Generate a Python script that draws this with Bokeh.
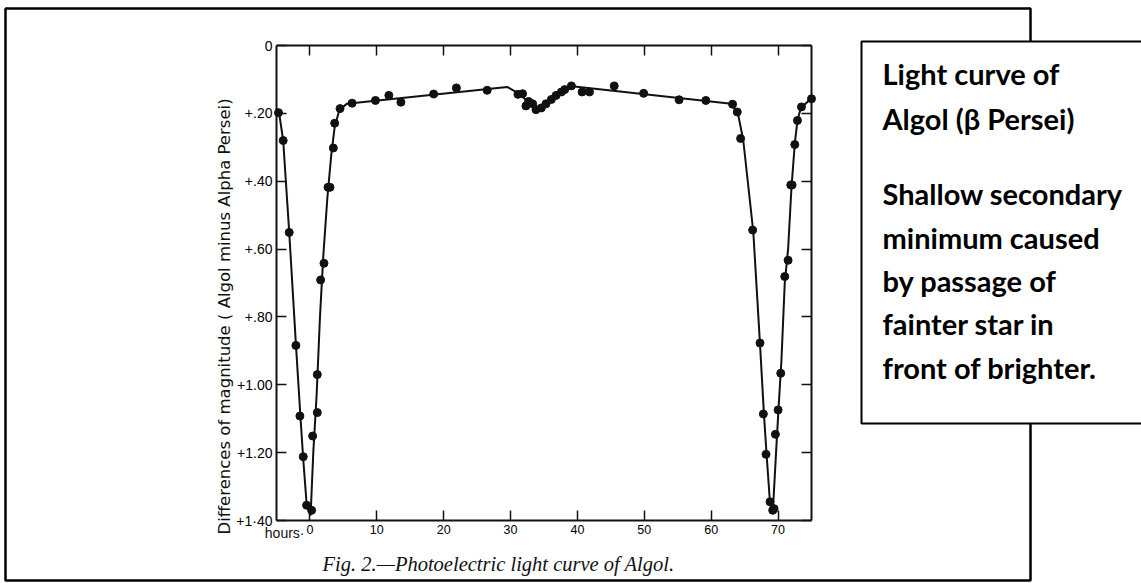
import math
from bokeh.plotting import figure
from bokeh.models import Range1d, LinearAxis, FixedTicker, Label, BoxAnnotation
from bokeh.embed import file_html
from bokeh.resources import INLINE

# ---- data (hours, magnitude difference) ----
curve_hours = [-5.0, -4.6, -4.0, -3.1, -2.1, -1.4, -1.0, -0.5, 0.1,
               0.5, 1.0, 1.5, 2.0, 2.6, 3.2, 3.7, 4.4, 5.5,
               29.5, 31.5, 33.0, 34.2, 35.5, 37.5, 39.2, 63.0, 64.0, 64.8,
               66.3, 67.3, 67.9, 68.3, 68.8, 69.2, 69.7, 70.1, 70.5, 71.0,
               71.5, 72.0, 72.5, 72.9, 73.4, 75.0]
curve_mag = [0.185, 0.20, 0.28, 0.55, 0.88, 1.10, 1.22, 1.35, 1.385,
             1.20, 1.03, 0.80, 0.62, 0.45, 0.32, 0.24, 0.19, 0.172,
             0.122, 0.145, 0.175, 0.19, 0.17, 0.14, 0.12, 0.172, 0.20, 0.28,
             0.55, 0.88, 1.09, 1.21, 1.35, 1.38, 1.20, 1.06, 0.93, 0.70,
             0.60, 0.42, 0.29, 0.22, 0.185, 0.155]

obs_hours = [-4.7, -4.0, -3.1, -2.1, -1.5, -1.0, -0.5, 0.25, 0.4, 1.1, 1.1,
             1.6, 2.1, 2.7, 3.0, 3.5, 3.7, 4.5, 6.3, 9.8, 11.8, 13.6, 18.5,
             21.9, 26.5, 31.1, 31.8, 32.3, 32.7, 33.3, 33.8, 34.6, 35.3, 36.1,
             36.8, 37.6, 38.1, 39.1, 40.7, 41.8, 45.5, 49.9, 55.2, 59.2, 63.2,
             63.9, 64.4, 66.2, 67.3, 67.8, 68.2, 68.8, 69.2, 69.4, 69.6, 70.0,
             70.4, 71.0, 71.5, 71.9, 72.1, 72.5, 72.9, 73.5, 75.0]
obs_mag = [0.198, 0.280, 0.551, 0.884, 1.092, 1.212, 1.355, 1.370, 1.151, 1.082, 0.970,
           0.691, 0.642, 0.418, 0.418, 0.302, 0.229, 0.186, 0.170, 0.162, 0.147, 0.167, 0.143,
           0.125, 0.132, 0.144, 0.142, 0.178, 0.165, 0.172, 0.189, 0.184, 0.172, 0.159,
           0.147, 0.137, 0.130, 0.119, 0.137, 0.137, 0.119, 0.141, 0.160, 0.162, 0.173,
           0.196, 0.274, 0.544, 0.877, 1.086, 1.205, 1.345, 1.370, 1.365, 1.146, 1.074,
           0.966, 0.681, 0.633, 0.411, 0.411, 0.292, 0.221, 0.181, 0.157]

x_ticks = [0, 10, 20, 30, 40, 50, 60, 70]
x_tick_labels = ["0", "10", "20", "30", "40", "50", "60", "70"]
y_ticks = [0, 0.2, 0.4, 0.6, 0.8, 1.0, 1.2, 1.4]
y_tick_labels = ["0", "+.20", "+.40", "+.60", "+.80", "+1.00", "+1.20", "+1·40"]
x_bounds = (-5, 75)
y_bounds = (0, 1.4)

y_title = "Differences of magnitude ( Algol minus Alpha Persei)"
caption = "Fig. 2.\u2014Photoelectric light curve of Algol."
box_lines = ["Light curve of", "Algol (\u03b2 Persei)", "Shallow secondary",
             "minimum caused", "by passage of", "fainter star in", "front of brighter."]

INK = "#111111"

# ---- layout: the plotting frame fills the whole canvas; the chart box is drawn
#      by four axes fixed at the chart bounds (pixel box 276..811 x 45..520)
W, H = 1141, 583
BOX_L, BOX_R, BOX_T, BOX_B = 276, 811, 45, 520
kx = (BOX_R - BOX_L) / (x_bounds[1] - x_bounds[0])
ky = (BOX_B - BOX_T) / (y_bounds[1] - y_bounds[0])
x_start = x_bounds[0] - BOX_L / kx
x_end = x_bounds[1] + (W - BOX_R) / kx
y_top = y_bounds[0] - BOX_T / ky
y_bottom = y_bounds[1] + (H - BOX_B) / ky

p = figure(width=W, height=H, x_range=Range1d(x_start, x_end), y_range=Range1d(y_bottom, y_top),
           output_backend="svg", toolbar_location=None,
           x_axis_location=None, y_axis_location=None,
           min_border_left=0, min_border_right=0, min_border_top=0, min_border_bottom=0)
p.xgrid.visible = False
p.ygrid.visible = False
p.outline_line_color = None
p.background_fill_color = "white"
p.border_fill_color = "white"

def make_axis(ticks, loc, bounds, labels=None):
    ax = LinearAxis(fixed_location=loc, bounds=bounds)
    ax.ticker = FixedTicker(ticks=ticks)
    ax.major_tick_in = 10
    ax.major_tick_out = 0
    ax.minor_tick_line_color = None
    ax.axis_line_color = INK
    ax.axis_line_width = 2
    ax.major_tick_line_color = INK
    ax.major_tick_line_width = 1.5
    if labels is None:
        ax.major_label_text_color = None
    else:
        ax.major_label_overrides = {t: l for t, l in zip(ticks, labels)}
        ax.major_label_text_color = "black"
        ax.major_label_text_font = "Liberation Sans"
        ax.major_label_standoff = 4
    return ax

xa = make_axis(x_ticks, y_bounds[1], x_bounds, x_tick_labels)
xa.major_label_text_font_size = "12.5px"
p.add_layout(xa, "below")
ya = make_axis(y_ticks, x_bounds[0], y_bounds, y_tick_labels)
ya.major_label_text_font_size = "14px"
p.add_layout(ya, "left")
p.add_layout(make_axis(x_ticks, y_bounds[0], x_bounds), "above")
p.add_layout(make_axis(y_ticks, x_bounds[1], y_bounds), "right")

p.line(curve_hours, curve_mag, line_width=2, line_color=INK)
p.scatter(obs_hours, obs_mag, size=8, fill_color=INK, line_color=INK)

# outer frame and the note box (canvas pixels)
p.add_layout(BoxAnnotation(left=5, right=1030, top=8, bottom=580,
                           left_units="canvas", right_units="canvas",
                           bottom_units="canvas", top_units="canvas",
                           fill_alpha=0, line_color="black", line_alpha=1, line_width=2.5))
p.add_layout(BoxAnnotation(left=861, right=1200, top=41, bottom=423,
                           left_units="canvas", right_units="canvas",
                           bottom_units="canvas", top_units="canvas",
                           fill_color="white", fill_alpha=1,
                           line_color="black", line_alpha=1, line_width=2))

line_y = [73, 118, 193, 237, 280, 323, 367]
for txt, yy in zip(box_lines, line_y):
    p.add_layout(Label(x=882, y=yy, x_units="canvas", y_units="canvas", text=txt,
                       text_font="Lato", text_font_style="bold", text_font_size="29px",
                       text_baseline="middle", text_align="left", text_color="black"))

p.add_layout(Label(x=224, y=316, x_units="canvas", y_units="canvas", text=y_title,
                   angle=math.pi / 2, text_font="DejaVu Sans", text_font_size="16.5px",
                   text_baseline="middle", text_align="center", text_color=INK))
p.add_layout(Label(x=498, y=563, x_units="canvas", y_units="canvas", text=caption,
                   text_font="Liberation Serif", text_font_style="italic",
                   text_font_size="20.5px", text_baseline="middle", text_align="center",
                   text_color=INK))
p.add_layout(Label(x=304, y=532, x_units="canvas", y_units="canvas", text="hours\u00b7",
                   text_font="Liberation Sans", text_font_size="14px",
                   text_baseline="middle", text_align="right", text_color=INK))

open("out.html", "w").write(file_html(p, INLINE))
